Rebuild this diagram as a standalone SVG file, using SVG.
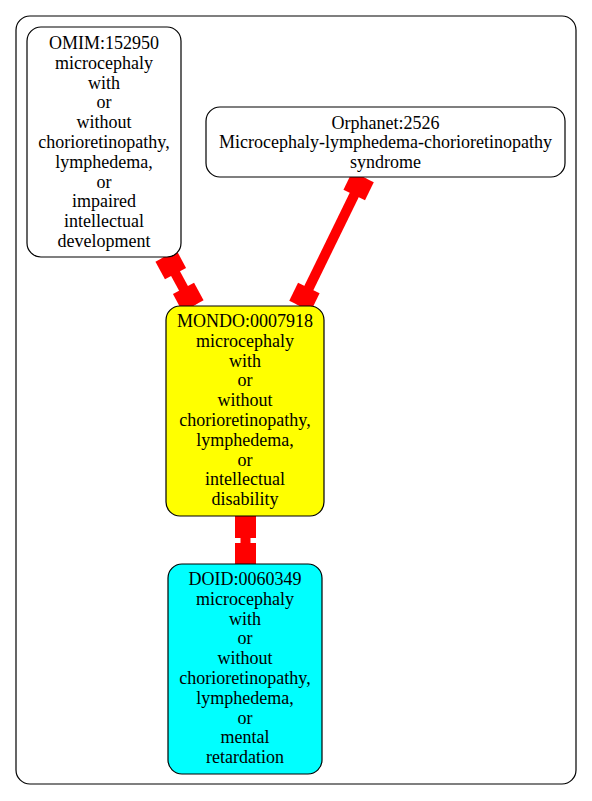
<svg xmlns="http://www.w3.org/2000/svg" width="592" height="801" viewBox="0 0 592 801">
<style>
.n{stroke:#000;stroke-width:1.2}
text{font-family:"Liberation Serif","Times New Roman",serif;font-size:18px;text-anchor:middle;fill:#000}
.e{fill:#ff0000}
</style>
<rect x="0" y="0" width="592" height="801" fill="#fff"/>
<rect x="16" y="16" width="560" height="768" rx="14" fill="none" stroke="#000" stroke-width="1.2"/>
<g id="connectors">
  <g transform="translate(166,256) rotate(61.6)" class="e">
    <rect x="0" y="-12" width="20" height="24"/>
    <rect x="0" y="-5" width="56.8" height="10"/>
    <rect x="36.8" y="-12" width="20" height="24"/>
  </g>
  <g transform="translate(363,177) rotate(116)" class="e">
    <rect x="0" y="-12" width="20" height="24"/>
    <rect x="0" y="-5" width="143.6" height="10"/>
    <rect x="123.6" y="-12" width="20" height="24"/>
  </g>
  <g transform="translate(245.5,516) rotate(90)" class="e">
    <rect x="0" y="-10.5" width="22" height="21"/>
    <rect x="0" y="-5" width="48" height="10"/>
    <rect x="27" y="-10.5" width="21" height="21"/>
  </g>
</g>
<g id="omim">
  <rect class="n" x="27" y="27" width="154" height="230" rx="14" fill="#fff"/>
  <text x="104" y="49">OMIM:152950</text>
  <text x="104" y="68.8">microcephaly</text>
  <text x="104" y="88.6">with</text>
  <text x="104" y="108.4">or</text>
  <text x="104" y="128.2">without</text>
  <text x="104" y="148">chorioretinopathy,</text>
  <text x="104" y="167.8">lymphedema,</text>
  <text x="104" y="187.6">or</text>
  <text x="104" y="207.4">impaired</text>
  <text x="104" y="227.2">intellectual</text>
  <text x="104" y="247">development</text>
</g>
<g id="orphanet">
  <rect class="n" x="206" y="107" width="359" height="70" rx="14" fill="#fff"/>
  <text x="385.5" y="128.5">Orphanet:2526</text>
  <text x="385.5" y="148">Microcephaly-lymphedema-chorioretinopathy</text>
  <text x="385.5" y="167.5">syndrome</text>
</g>
<g id="mondo">
  <rect class="n" x="166" y="306" width="158" height="210" rx="14" fill="#ffff00"/>
  <text x="245" y="327">MONDO:0007918</text>
  <text x="245" y="346.8">microcephaly</text>
  <text x="245" y="366.6">with</text>
  <text x="245" y="386.4">or</text>
  <text x="245" y="406.2">without</text>
  <text x="245" y="426">chorioretinopathy,</text>
  <text x="245" y="445.8">lymphedema,</text>
  <text x="245" y="465.6">or</text>
  <text x="245" y="485.4">intellectual</text>
  <text x="245" y="505.2">disability</text>
</g>
<g id="doid">
  <rect class="n" x="168" y="564" width="154" height="210" rx="14" fill="#00ffff"/>
  <text x="245" y="585">DOID:0060349</text>
  <text x="245" y="604.8">microcephaly</text>
  <text x="245" y="624.6">with</text>
  <text x="245" y="644.4">or</text>
  <text x="245" y="664.2">without</text>
  <text x="245" y="684">chorioretinopathy,</text>
  <text x="245" y="703.8">lymphedema,</text>
  <text x="245" y="723.6">or</text>
  <text x="245" y="743.4">mental</text>
  <text x="245" y="763.2">retardation</text>
</g>
</svg>
